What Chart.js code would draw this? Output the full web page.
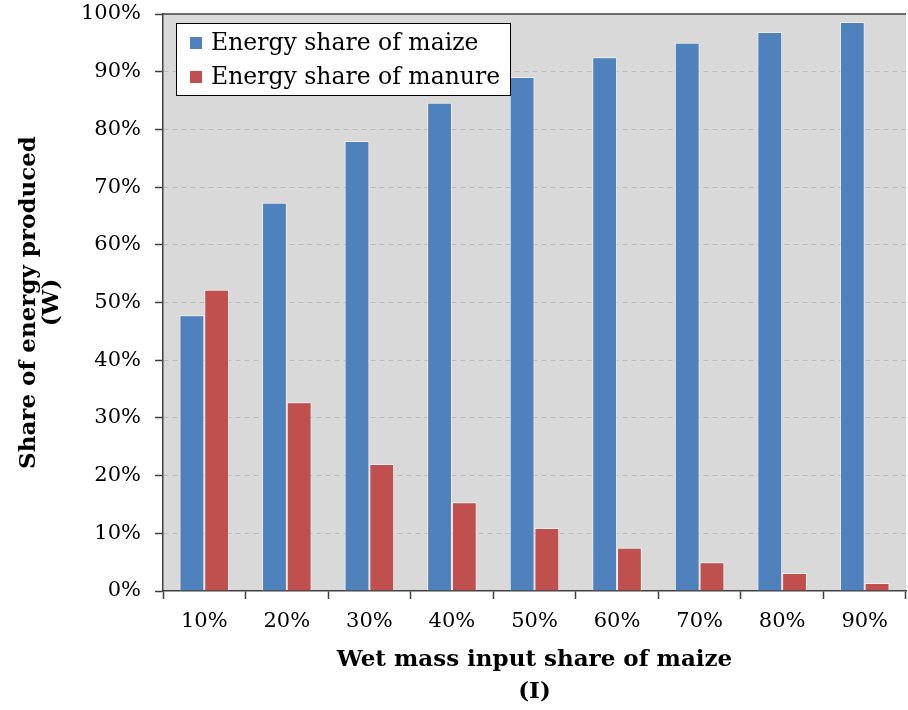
<!DOCTYPE html>
<html>
<head>
<meta charset="utf-8">
<script src="https://cdn.jsdelivr.net/npm/chart.js@4.4.0/dist/chart.umd.min.js"></script>
<style>
  html, body { margin: 0; padding: 0; background: #fff; }
  #wrap { width: 908px; height: 710px; }
</style>
</head>
<body>
<div id="wrap"><canvas id="chart"></canvas></div>
<script>
// wet mass input share of maize
const categories = ['10%', '20%', '30%', '40%', '50%', '60%', '70%', '80%', '90%']
// share of energy produced (%)
const maizeShare = [47.8, 67.3, 78.0, 84.6, 89.1, 92.5, 95.0, 96.9, 98.6]
const manureShare = [52.2, 32.7, 22.0, 15.4, 10.9, 7.5, 5.0, 3.1, 1.4]
const seriesNames = ['Energy share of maize', 'Energy share of manure']
const seriesColors = ['#4f81bd', '#c0504d']

const FONT = '"DejaVu Serif", "Liberation Serif", serif'
const AXIS = '#404040'

// grauer Hintergrund der Zeichenfläche + obere Rahmenlinie
const plotBackground = {
  id: 'plotBackground',
  beforeDraw(chart) {
    const { ctx, chartArea: a } = chart
    ctx.save()
    ctx.fillStyle = '#d9d9d9'
    ctx.fillRect(a.left, a.top, a.right - a.left, a.bottom - a.top)
    ctx.restore()
  },
  afterDraw(chart) {
    const { ctx, chartArea: a } = chart
    ctx.save()
    ctx.strokeStyle = AXIS
    ctx.lineWidth = 1.5
    ctx.beginPath()
    ctx.moveTo(a.left, a.top)
    ctx.lineTo(a.right, a.top)
    ctx.stroke()
    ctx.restore()
  }
}

// Legende innerhalb der Zeichenfläche, oben links
const insideLegend = {
  id: 'insideLegend',
  afterDatasetsDraw(chart) {
    const { ctx, chartArea: a } = chart
    const x = a.left + 13
    const y = a.top + 9
    const w = 334
    const h = 72
    ctx.save()
    ctx.fillStyle = '#fff'
    ctx.fillRect(x, y, w, h)
    ctx.strokeStyle = '#000'
    ctx.lineWidth = 1
    ctx.strokeRect(x + 0.5, y + 0.5, w, h)
    ctx.font = '23.5px ' + FONT
    ctx.textBaseline = 'middle'
    chart.data.datasets.forEach((ds, i) => {
      const cy = y + 20 + i * 34
      ctx.fillStyle = ds.backgroundColor
      ctx.fillRect(x + 14, cy - 6, 12, 12)
      ctx.fillStyle = '#000'
      ctx.fillText(ds.label, x + 35, cy + 1)
    })
    ctx.restore()
  }
}

new Chart(document.getElementById('chart'), {
  type: 'bar',
  data: {
    labels: categories,
    datasets: [
      {
        label: seriesNames[0],
        data: maizeShare,
        backgroundColor: seriesColors[0],
        borderColor: 'rgba(255,255,255,0.55)',
        borderWidth: 1,
        categoryPercentage: 0.6,
        barPercentage: 1.0
      },
      {
        label: seriesNames[1],
        data: manureShare,
        backgroundColor: seriesColors[1],
        borderColor: 'rgba(255,255,255,0.55)',
        borderWidth: 1,
        categoryPercentage: 0.6,
        barPercentage: 1.0
      }
    ]
  },
  options: {
    responsive: true,
    maintainAspectRatio: false,
    animation: false,
    layout: { padding: { top: 14, right: 2, left: 0, bottom: 0 } },
    plugins: {
      legend: { display: false },
      tooltip: { enabled: false }
    },
    scales: {
      x: {
        grid: {
          drawOnChartArea: false,
          drawTicks: true,
          tickLength: 8,
          tickColor: AXIS,
          tickWidth: 1.5
        },
        border: { color: AXIS, width: 1.5 },
        ticks: {
          color: '#000',
          font: { family: FONT, size: 21 },
          padding: 10,
          maxRotation: 0
        },
        title: {
          display: true,
          text: ['Wet mass input share of maize', '(I)'],
          color: '#000',
          font: { family: FONT, size: 23, weight: 'bold', lineHeight: 1.4 },
          padding: { top: 0, bottom: 2 }
        },
        afterFit: s => { s.height = 119 }
      },
      y: {
        min: 0,
        max: 100,
        ticks: {
          stepSize: 10,
          color: '#000',
          font: { family: FONT, size: 21 },
          padding: 14,
          callback: v => v + '%'
        },
        grid: {
          color: c => (c.tick && (c.tick.value === 0 || c.tick.value === 100)) ? 'rgba(0,0,0,0)' : '#bcbcbc',
          lineWidth: 1,
          tickLength: 8,
          tickColor: AXIS,
          tickWidth: 1.5
        },
        border: { color: AXIS, width: 1.5, dash: [5, 4] },
        title: {
          display: true,
          text: ['Share of energy produced', '(W)'],
          color: '#000',
          font: { family: FONT, size: 23, weight: 'bold', lineHeight: 1.0 },
          padding: { top: 18, bottom: 4 }
        },
        afterFit: s => {
          s.width = 163
          s.paddingTop = 0
          s.paddingBottom = 0
        }
      }
    }
  },
  plugins: [plotBackground, insideLegend]
})
</script>
</body>
</html>
